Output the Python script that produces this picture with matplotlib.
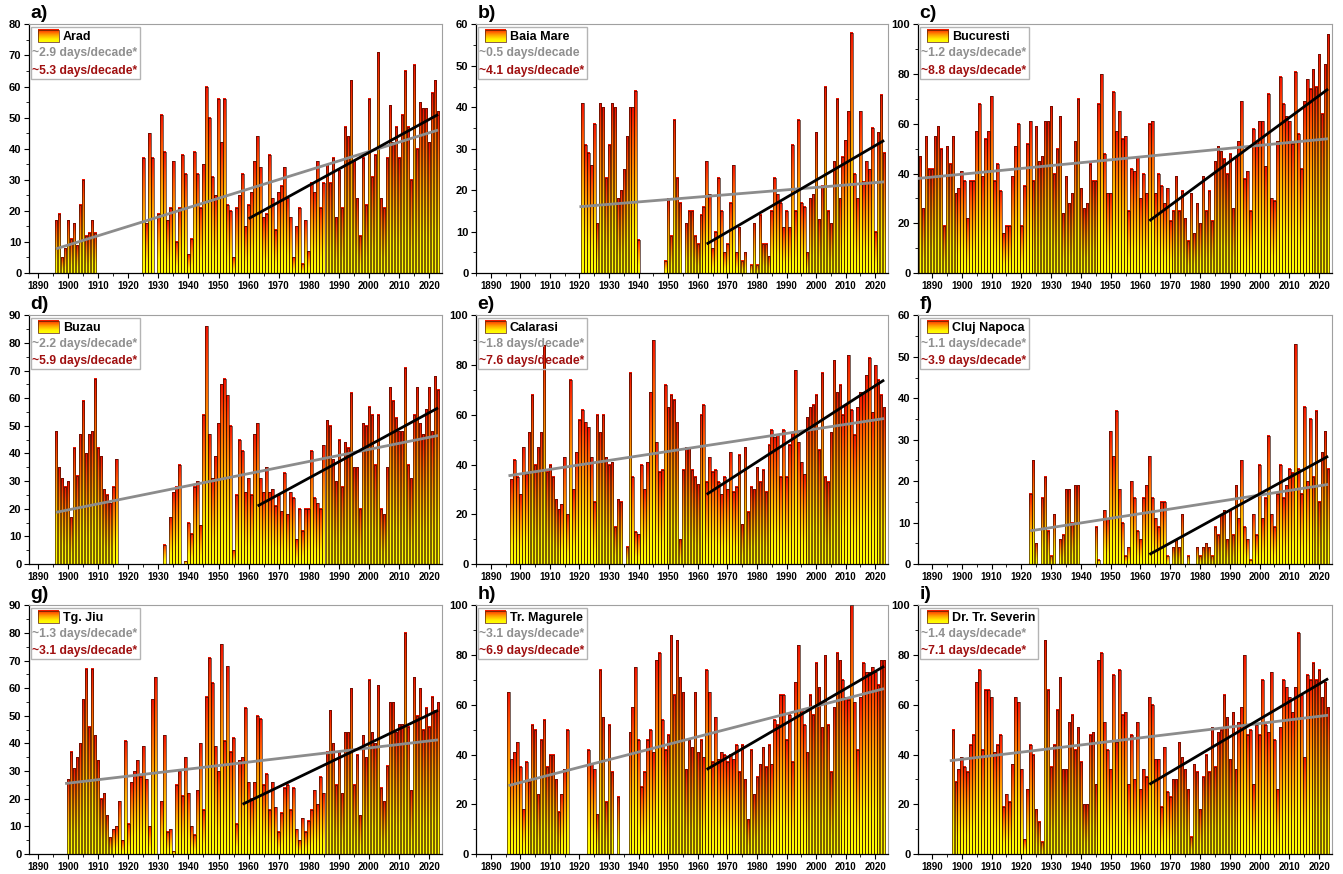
import numpy as np
import matplotlib.pyplot as plt
from matplotlib.colors import LinearSegmentedColormap
from matplotlib.patches import Rectangle
from matplotlib.ticker import MultipleLocator

plt.rcParams['font.family'] = ['Liberation Sans', 'DejaVu Sans']
plt.rcParams['font.weight'] = 'bold'

# ---- data: yearly counts per station (start year, values) ----
arad_1896 = [17, 19, 5, 8, 17, 11, 16, 9, 22, 30, 12, 13, 17, 13]
arad_1925 = [37, 16, 45, 37, 0, 19, 51, 39, 17, 21, 36, 10, 21, 38, 32, 6, 11, 39, 32, 21,
             35, 60, 50, 31, 25, 56, 42, 56, 22, 20, 5, 21, 25, 32, 15, 22, 26, 36, 44, 34,
             18, 19, 38, 24, 14, 26, 28, 34, 24, 18, 5, 15, 21, 3, 17, 7, 29, 26, 36, 21,
             29, 35, 29, 37, 18, 33, 21, 47, 44, 62, 36, 24, 12, 37, 22, 56, 31, 38, 71, 24,
             21, 37, 54, 42, 47, 37, 51, 65, 47, 30, 67, 40, 55, 53, 53, 42, 58, 62, 52]

baia_1921 = [41, 31, 29, 26, 36, 12, 41, 40, 23, 31, 41, 40, 18, 20, 25, 33, 40, 40, 44, 8]
baia_1949 = [3, 18, 9, 37, 23, 17, 0, 12, 15, 15, 9, 7, 14, 16, 27, 19, 6, 10, 23, 15,
             5, 7, 17, 26, 5, 11, 3, 5, 0, 2, 12, 2, 14, 7, 7, 4, 15, 23, 19, 17,
             11, 15, 11, 31, 15, 37, 17, 16, 5, 18, 19, 34, 13, 21, 45, 15, 12, 27, 42, 18,
             28, 32, 39, 58, 24, 18, 39, 22, 27, 25, 35, 10, 34, 43, 29]

buc_1886 = [47, 26, 55, 42, 42, 55, 59, 50, 19, 51, 44, 55, 32, 34, 41, 37, 22, 37, 37, 57,
            68, 39, 54, 57, 71, 37, 44, 33, 16, 19, 19, 39, 51, 60, 19, 35, 52, 61, 37, 59,
            45, 47, 61, 61, 67, 40, 50, 63, 24, 39, 28, 32, 53, 70, 34, 26, 28, 44, 37, 37,
            68, 80, 48, 32, 32, 73, 57, 65, 54, 55, 25, 42, 41, 47, 30, 40, 32, 60, 61, 32,
            40, 35, 28, 34, 21, 25, 39, 25, 33, 22, 13, 32, 16, 28, 20, 39, 25, 33, 21, 45,
            51, 49, 46, 40, 48, 26, 47, 53, 69, 38, 41, 25, 58, 52, 61, 61, 43, 72, 30, 29,
            53, 79, 68, 63, 61, 52, 81, 56, 42, 69, 78, 74, 82, 75, 88, 64, 84, 96]

buzau_1896 = [48, 35, 31, 28, 30, 17, 42, 32, 47, 59, 40, 47, 48, 67, 42, 39, 27, 25, 22, 28, 38]
buzau_1932 = [7, 0, 17, 26, 28, 36, 0, 1, 15, 11, 28, 30, 14, 54, 86, 47, 31, 39, 51, 65,
              67, 61, 50, 5, 25, 45, 41, 26, 31, 25, 47, 51, 31, 26, 35, 26, 27, 21, 25, 19,
              33, 18, 26, 24, 9, 20, 12, 20, 20, 41, 24, 22, 20, 43, 52, 50, 38, 30, 45, 28,
              44, 42, 62, 35, 35, 20, 51, 50, 57, 54, 36, 54, 20, 18, 35, 64, 59, 53, 48, 48,
              71, 36, 31, 54, 64, 51, 47, 56, 64, 48, 68, 63]

cal_1897 = [34, 42, 35, 28, 47, 36, 53, 68, 40, 47, 53, 88, 37, 40, 35, 26, 22, 24, 43, 20,
            74, 30, 45, 58, 62, 57, 55, 43, 25, 60, 53, 60, 43, 40, 41, 15, 26, 25, 0, 7,
            77, 35, 13, 12, 40, 30, 41, 69, 90, 49, 37, 38, 72, 63, 68, 66, 57, 10, 38, 47,
            47, 38, 35, 32, 60, 64, 33, 43, 37, 38, 33, 28, 35, 30, 45, 29, 31, 44, 16, 47,
            21, 31, 30, 39, 33, 38, 29, 48, 54, 51, 52, 35, 54, 35, 48, 53, 78, 49, 41, 36,
            59, 63, 64, 68, 46, 77, 35, 33, 53, 82, 69, 72, 60, 64, 84, 62, 52, 63, 69, 69,
            76, 83, 61, 80, 74, 68, 63]

cluj_1923 = [17, 25, 5, 0, 16, 21, 8, 2, 12, 0, 6, 7, 18, 18, 10, 19, 19]
cluj_1945 = [9, 1, 0, 13, 11, 32, 26, 37, 18, 10, 2, 4, 20, 16, 8, 6, 16, 19, 26, 16,
             11, 9, 15, 15, 2, 0, 4, 6, 4, 12, 0, 2, 0, 0, 4, 2, 4, 5, 4, 2,
             9, 7, 12, 13, 6, 13, 7, 19, 11, 25, 9, 6, 1, 12, 7, 24, 11, 16, 31, 12,
             9, 17, 24, 16, 19, 23, 22, 53, 23, 17, 38, 20, 35, 21, 37, 15, 27, 32, 23]

jiu_1900 = [27, 37, 31, 35, 40, 56, 67, 46, 67, 43, 34, 20, 22, 14, 6, 9, 10, 19, 5, 41,
            11, 26, 30, 34, 28, 39, 27, 10, 56, 64, 0, 19, 43, 8, 9, 1, 25, 30, 21, 35,
            22, 10, 7, 23, 40, 16, 57, 71, 62, 39, 30, 76, 41, 68, 37, 42, 11, 34, 35, 53,
            26, 20, 26, 50, 49, 25, 29, 16, 26, 17, 8, 15, 24, 25, 16, 24, 9, 5, 13, 8,
            12, 16, 23, 18, 28, 22, 37, 52, 40, 25, 37, 22, 44, 44, 60, 25, 36, 14, 43, 35,
            63, 44, 40, 61, 24, 19, 32, 55, 55, 44, 47, 47, 80, 46, 23, 64, 50, 60, 45, 53,
            46, 57, 52, 55]

mag_1896 = [65, 38, 41, 45, 35, 18, 37, 29, 52, 50, 24, 46, 54, 35, 40, 40, 30, 17, 24, 34, 50]
mag_1923 = [42, 36, 34, 16, 74, 55, 21, 52, 33, 0, 23]
mag_1937 = [49, 59, 75, 46, 27, 33, 46, 50, 41, 78, 81, 54, 42, 48, 88, 64, 86, 71, 65, 34,
            46, 43, 65, 41, 46, 39, 74, 65, 37, 55, 38, 41, 40, 37, 40, 38, 44, 33, 44, 30,
            14, 42, 24, 31, 36, 43, 35, 44, 36, 54, 52, 64, 64, 46, 56, 37, 69, 84, 58, 52,
            41, 64, 56, 77, 67, 51, 80, 52, 33, 59, 81, 78, 70, 63, 62, 100, 61, 42, 63, 77,
            73, 73, 75, 73, 68, 78, 78]

sev_1897 = [50, 29, 34, 39, 35, 33, 44, 48, 69, 74, 42, 66, 66, 63, 41, 44, 48, 19, 24, 21,
            36, 63, 61, 34, 6, 26, 44, 40, 18, 13, 5, 86, 66, 35, 44, 58, 71, 34, 34, 53,
            56, 42, 51, 37, 20, 20, 48, 49, 28, 78, 81, 53, 42, 34, 72, 45, 74, 56, 57, 28,
            48, 30, 53, 26, 34, 31, 63, 60, 38, 38, 19, 43, 25, 23, 30, 30, 45, 39, 34, 26,
            7, 36, 33, 18, 31, 40, 33, 51, 35, 49, 50, 64, 55, 38, 57, 34, 53, 59, 80, 48,
            50, 28, 52, 48, 70, 52, 49, 73, 46, 26, 51, 70, 67, 63, 57, 67, 89, 64, 39, 72,
            70, 77, 70, 74, 63, 69, 59]

# trend lines: (x0, x1), (y0, y1)
trend_all = {
    'Arad': ((1896, 2023), (7.8, 46)),
    'Baia Mare': ((1920, 2023), (16, 22)),
    'Bucuresti': ((1885, 2023), (38, 54)),
    'Buzau': ((1896, 2023), (18.7, 46.5)),
    'Calarasi': ((1896, 2023), (35.5, 58.5)),
    'Cluj Napoca': ((1923, 2023), (8, 19.2)),
    'Tg. Jiu': ((1899, 2023), (25.5, 41.3)),
    'Tr. Magurele': ((1896, 2023), (27.5, 66.5)),
    'Dr. Tr. Severin': ((1896, 2023), (37.5, 55.8)),
}
trend_recent = {
    'Arad': ((1960, 2023), (17.5, 51)),
    'Baia Mare': ((1963, 2023), (7, 32)),
    'Bucuresti': ((1963, 2023), (21, 74)),
    'Buzau': ((1963, 2023), (21, 56.5)),
    'Calarasi': ((1963, 2023), (28, 74)),
    'Cluj Napoca': ((1963, 2023), (2.3, 26)),
    'Tg. Jiu': ((1958, 2023), (18, 52)),
    'Tr. Magurele': ((1963, 2023), (34, 75.5)),
    'Dr. Tr. Severin': ((1963, 2023), (28, 70.5)),
}

rate_all = ['~2.9 days/decade*', '~0.5 days/decade', '~1.2 days/decade*',
            '~2.2 days/decade*', '~1.8 days/decade*', '~1.1 days/decade*',
            '~1.3 days/decade*', '~3.1 days/decade*', '~1.4 days/decade*']
rate_recent = ['~5.3 days/decade*', '~4.1 days/decade*', '~8.8 days/decade*',
               '~5.9 days/decade*', '~7.6 days/decade*', '~3.9 days/decade*',
               '~3.1 days/decade*', '~6.9 days/decade*', '~7.1 days/decade*']

stations = [
    ('a)', 'Arad', [(1896, arad_1896), (1925, arad_1925)], 80, 10),
    ('b)', 'Baia Mare', [(1921, baia_1921), (1949, baia_1949)], 60, 10),
    ('c)', 'Bucuresti', [(1886, buc_1886)], 100, 20),
    ('d)', 'Buzau', [(1896, buzau_1896), (1932, buzau_1932)], 90, 10),
    ('e)', 'Calarasi', [(1897, cal_1897)], 100, 20),
    ('f)', 'Cluj Napoca', [(1923, cluj_1923), (1945, cluj_1945)], 60, 10),
    ('g)', 'Tg. Jiu', [(1900, jiu_1900)], 90, 10),
    ('h)', 'Tr. Magurele', [(1896, mag_1896), (1923, mag_1923), (1937, mag_1937)], 100, 20),
    ('i)', 'Dr. Tr. Severin', [(1897, sev_1897)], 100, 20),
]

heat = LinearSegmentedColormap.from_list(
    'heat', [(0.0, '#ffff00'), (0.22, '#fff000'), (0.55, '#ffa200'),
             (0.82, '#ff5200'), (1.0, '#f01200')])
grad = np.linspace(0, 1, 64).reshape(-1, 1)

fig = plt.figure(figsize=(13.43, 8.74), dpi=100)

col_left = [0.0216, 0.3544, 0.6835]
col_w = [0.3075, 0.3068, 0.3083]
row_bot = [0.6876, 0.3547, 0.0229]
row_h = 0.2845
xleft = [1887, 1885, 1885.3]

W, H = 413.0, 248.0   # axes size in pixels, for legend placement


def fx(px):
    return px / W


def fy(py):
    return 1 - py / H


for k, (lab, name, segs, ymax, ystep) in enumerate(stations):
    r, c = divmod(k, 3)
    ax = fig.add_axes([col_left[c], row_bot[r], col_w[c], row_h])

    years = np.concatenate([np.arange(s, s + len(v)) for s, v in segs])
    vals = np.concatenate([np.array(v, float) for s, v in segs])

    bars = ax.bar(years, vals, width=0.85, fill=False, edgecolor='#2e0a00',
                  linewidth=0.45, zorder=3)
    for p in bars.patches:
        h = p.get_height()
        if h <= 0:
            continue
        x0 = p.get_x()
        ax.imshow(grad, cmap=heat, origin='lower', aspect='auto', zorder=2,
                  extent=[x0, x0 + p.get_width(), 0, h], interpolation='bilinear')

    (tx, ty) = trend_all[name]
    ax.plot(tx, ty, color='#8c8c8c', lw=2.0, zorder=4, solid_capstyle='butt')
    (tx, ty) = trend_recent[name]
    ax.plot(tx, ty, color='black', lw=2.0, zorder=4, solid_capstyle='butt')

    ax.set_xlim(xleft[c], 2024.3)
    ax.set_ylim(0, ymax)
    ax.set_aspect('auto')
    ax.xaxis.set_major_locator(MultipleLocator(10))
    ax.xaxis.set_minor_locator(MultipleLocator(5))
    ax.yaxis.set_major_locator(MultipleLocator(ystep))
    ax.yaxis.set_minor_locator(MultipleLocator(ystep / 2))
    ax.tick_params(axis='x', which='major', direction='out', length=3.5, width=0.8,
                   labelsize=7, pad=2)
    ax.tick_params(axis='y', which='major', direction='out', length=3.5, width=0.8,
                   labelsize=8, pad=2)
    ax.tick_params(which='minor', direction='out', length=2, width=0.6)
    for lbl in ax.get_xticklabels() + ax.get_yticklabels():
        lbl.set_fontweight('bold')
    for s in ['top', 'right']:
        ax.spines[s].set_color('#a0a0a0')
    for s in ['left', 'bottom']:
        ax.spines[s].set_color('black')
        ax.spines[s].set_linewidth(0.9)

    ax.text(0.004, 1.008, lab, transform=ax.transAxes, ha='left', va='bottom',
            fontsize=14, fontweight='bold')

    # legend block
    ax.imshow(grad, cmap=heat, origin='lower', aspect='auto', zorder=6,
              extent=[fx(9), fx(30), fy(18), fy(6)], transform=ax.transAxes)
    ax.add_patch(Rectangle((fx(9), fy(18)), fx(21), 12 / H, transform=ax.transAxes,
                           fill=False, edgecolor='#5a2000', lw=0.5, zorder=7))
    t1 = ax.text(fx(34), fy(12.5), name, transform=ax.transAxes, ha='left', va='center',
                 fontsize=9, fontweight='bold', color='black', zorder=7)
    t2 = ax.text(fx(3), fy(29), rate_all[k], transform=ax.transAxes, ha='left',
                 va='center', fontsize=8.7, fontweight='bold', color='#8f8f8f', zorder=7)
    t3 = ax.text(fx(3), fy(46), rate_recent[k], transform=ax.transAxes, ha='left',
                 va='center', fontsize=8.7, fontweight='bold', color='#a01010', zorder=7)
    ax.set_xlim(xleft[c], 2024.3)
    ax.set_ylim(0, ymax)

    fig.canvas.draw()
    rend = fig.canvas.get_renderer()
    inv = ax.transAxes.inverted()
    xr = max(inv.transform(t.get_window_extent(rend))[1, 0] for t in (t1, t2, t3))
    ax.add_patch(Rectangle((fx(2), fy(54)), xr + fx(3) - fx(2), 51 / H,
                           transform=ax.transAxes, fill=False, edgecolor='#b4b4b4',
                           lw=1.0, zorder=6))

fig.savefig('out.png', dpi=100)
